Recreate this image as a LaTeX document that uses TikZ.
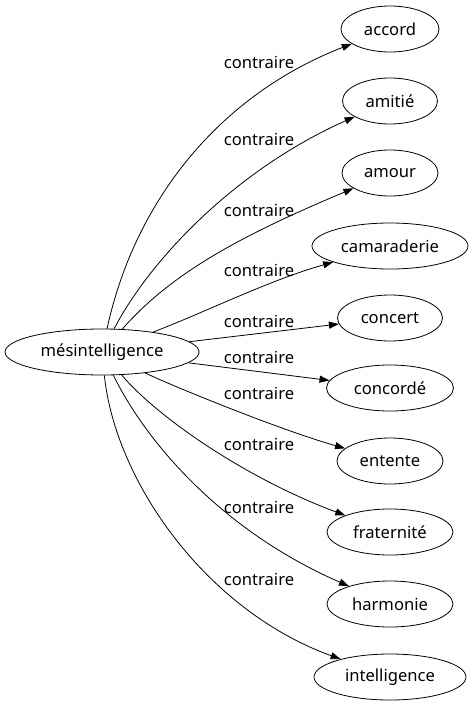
\documentclass[tikz,border=0pt]{standalone}
\usepackage{fontspec}
\setmainfont{Noto Sans}
\usetikzlibrary{arrows.meta,shapes.geometric}

\begin{document}
\begin{tikzpicture}[x=1pt,y=-1pt,every node/.style={inner sep=0pt},font=\fontsize{16.6}{19}\selectfont,
  mot/.style={draw,ellipse,minimum height=46pt,line width=0.8pt},
  rel/.style={-{Triangle[length=10pt,width=7pt]},line width=0.8pt}]
  \useasboundingbox (0,0) rectangle (473,707);
  \node[mot,minimum width=194pt] (mes) at (102,352) {mésintelligence};
  \node[mot,minimum width=98pt] (accord) at (390,29) {accord};
  \node[mot,minimum width=95pt] (amitie) at (390,101) {amitié};
  \node[mot,minimum width=96pt] (amour) at (390,173) {amour};
  \node[mot,minimum width=156pt] (camaraderie) at (390,246) {camaraderie};
  \node[mot,minimum width=105pt] (concert) at (390,318) {concert};
  \node[mot,minimum width=127pt] (concorde) at (390,388) {concordé};
  \node[mot,minimum width=106pt] (entente) at (390,461) {entente};
  \node[mot,minimum width=126pt] (fraternite) at (390,532) {fraternité};
  \node[mot,minimum width=126pt] (harmonie) at (390,604) {harmonie};
  \node[mot,minimum width=152pt] (intelligence) at (390,677) {intelligence};
  \node (c1) at (259,62) {contraire}; \node (c2) at (259,139) {contraire};
  \node (c3) at (259,210) {contraire}; \node (c4) at (259,270) {contraire};
  \node (c5) at (259,321) {contraire}; \node (c6) at (259,357) {contraire};
  \node (c7) at (259,393) {contraire}; \node (c8) at (259,444) {contraire};
  \node (c9) at (259,507) {contraire}; \node (c10) at (259,579) {contraire};
  \draw[rel] (mes) .. controls (135,200) and (220,95) .. (accord);
  \draw[rel] (mes) .. controls (150,260) and (235,170) .. (amitie);
  \draw[rel] (mes) .. controls (170,275) and (235,238) .. (amour);
  \draw[rel] (mes) .. controls (210,310) and (270,280) .. (camaraderie);
  \draw[rel] (mes) -- (concert);
  \draw[rel] (mes) -- (concorde);
  \draw[rel] (mes) .. controls (170,385) and (280,430) .. (entente);
  \draw[rel] (mes) .. controls (160,420) and (250,480) .. (fraternite);
  \draw[rel] (mes) .. controls (145,440) and (220,530) .. (harmonie);
  \draw[rel] (mes) .. controls (115,480) and (205,610) .. (intelligence);
\end{tikzpicture}
\end{document}
